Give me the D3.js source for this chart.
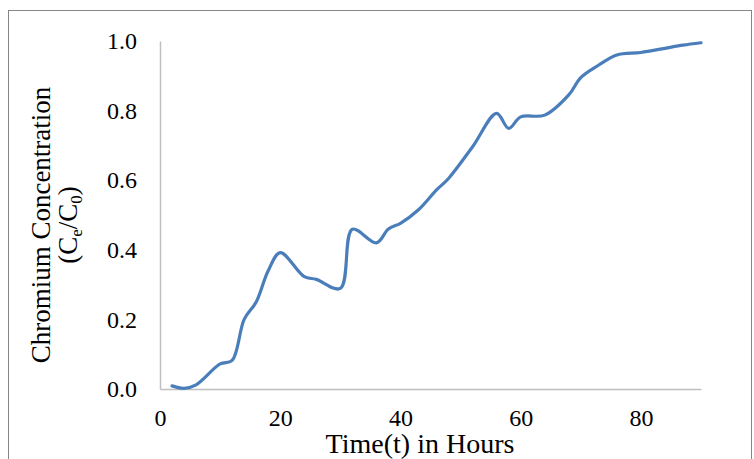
<!doctype html>
<html>
<head>
<meta charset="utf-8">
<script src="https://d3js.org/d3.v7.min.js"></script>
<style>
  body { margin: 0; background: #fff; }
  text { font-family: "Liberation Serif", "Times New Roman", serif; fill: #000; }
</style>
</head>
<body>
<div id="chart"></div>
<script>
// hours and Ce/C0
var hours  = [2, 4, 6, 10, 12, 14, 16, 18, 20, 24, 26, 30, 32, 36, 38, 40, 43, 46, 48, 52, 56, 58, 60, 64, 68, 70, 73, 76, 80, 84, 87, 90];
var conc   = [0.009, 0.002, 0.012, 0.072, 0.082, 0.2, 0.25, 0.34, 0.392, 0.323, 0.315, 0.289, 0.459, 0.42, 0.46, 0.476, 0.515, 0.572, 0.605, 0.696, 0.792, 0.749, 0.782, 0.787, 0.845, 0.895, 0.931, 0.96, 0.967, 0.979, 0.988, 0.995];
var xTicks = [0, 20, 40, 60, 80];
var yTicks = [0, 0.2, 0.4, 0.6, 0.8, 1.0];

var W = 754, H = 459;
var svg = d3.select("#chart").append("svg")
  .attr("width", W).attr("height", H);

// outer chart border
svg.append("rect")
  .attr("x", 8.5).attr("y", 10.5)
  .attr("width", 743).attr("height", 480)
  .attr("fill", "none").attr("stroke", "#868686").attr("stroke-width", 1);

var x = d3.scaleLinear().domain([0, 90]).range([160, 701]);
var y = d3.scaleLinear().domain([0, 1]).range([389, 41]);

// x axis
var gx = svg.append("g")
  .attr("transform", "translate(0," + y(0) + ")")
  .call(d3.axisBottom(x).tickValues(xTicks).tickSize(0).tickPadding(20).tickSizeOuter(0));
gx.select(".domain").attr("stroke", "#bfbfbf").attr("stroke-width", 1.5);
gx.selectAll("text").style("font-size", "24px").attr("font-family", null);

// y axis
var gy = svg.append("g")
  .attr("transform", "translate(" + x(0) + ",0)")
  .call(d3.axisLeft(y).tickValues(yTicks).tickSize(0).tickPadding(23).tickSizeOuter(0).tickFormat(d3.format(".1f")));
gy.select(".domain").attr("stroke", "#bfbfbf").attr("stroke-width", 1.5);
gy.selectAll("text").style("font-size", "24px").attr("font-family", null);

// axis titles
svg.append("text")
  .attr("x", 420).attr("y", 453)
  .attr("text-anchor", "middle")
  .style("font-size", "28px")
  .text("Time(t) in Hours");

var yt = svg.append("text")
  .attr("transform", "translate(50,225) rotate(-90)")
  .attr("text-anchor", "middle")
  .style("font-size", "27px");
yt.append("tspan").attr("x", 0).attr("y", 0).text("Chromium Concentration");
var l2 = yt.append("tspan").attr("x", 0).attr("y", 27);
l2.append("tspan").text("(C");
l2.append("tspan").attr("dy", 5).style("font-size", "17px").text("e");
l2.append("tspan").attr("dy", -5).text("/C");
l2.append("tspan").attr("dy", 5).style("font-size", "17px").text("0");
l2.append("tspan").attr("dy", -5).text(")");

// the curve
var data = hours.map(function(h, i) { return [h, conc[i]]; });
var line = d3.line()
  .x(function(d) { return x(d[0]); })
  .y(function(d) { return y(d[1]); })
  .curve(d3.curveCatmullRom.alpha(0.5));

svg.append("path")
  .datum(data)
  .attr("d", line)
  .attr("fill", "none")
  .attr("stroke", "#4a7ebb")
  .attr("stroke-width", 3.2)
  .attr("stroke-linejoin", "round")
  .attr("stroke-linecap", "round");
</script>
</body>
</html>
